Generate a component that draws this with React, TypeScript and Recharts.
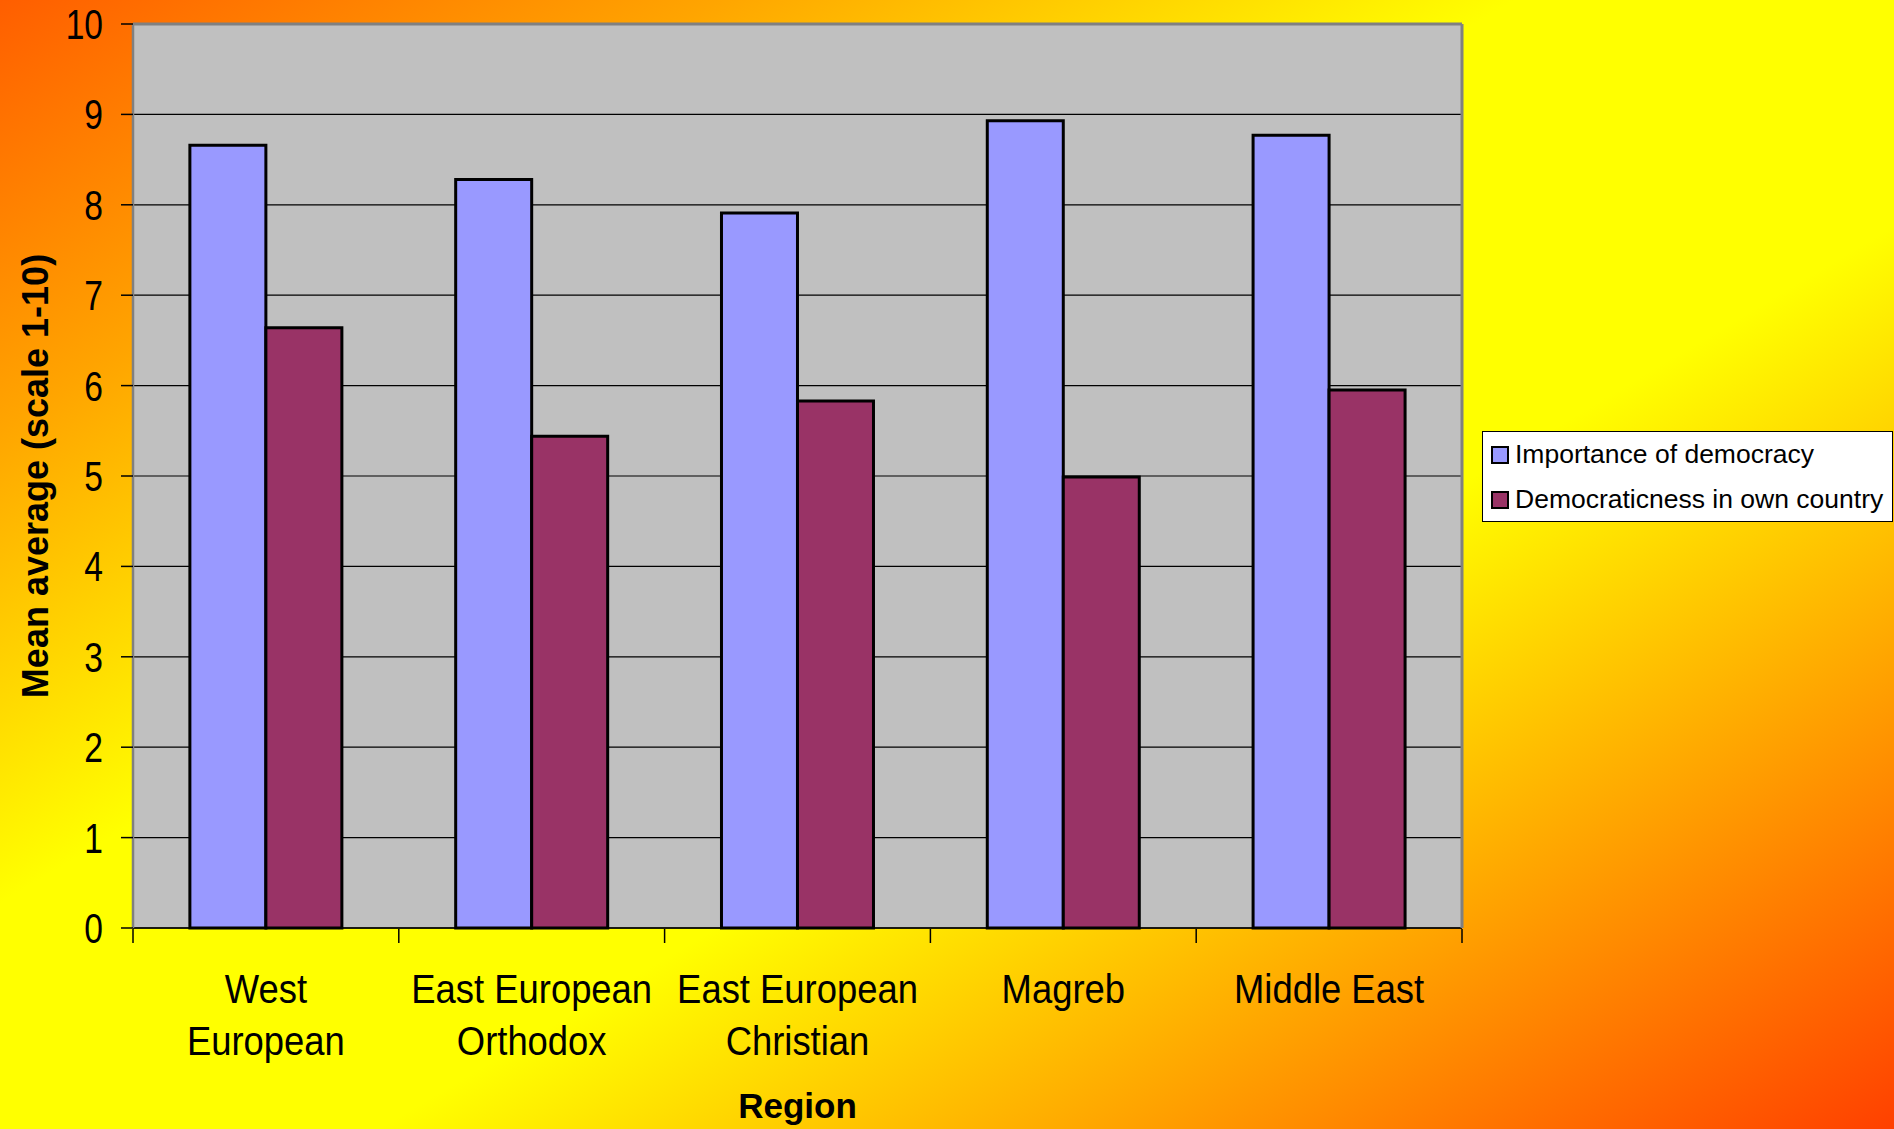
import React from 'react';
import { BarChart, Bar, XAxis, YAxis, CartesianGrid, Legend } from 'recharts';

const regions = ['West\nEuropean', 'East European\nOrthodox', 'East European\nChristian', 'Magreb', 'Middle East'];
const importance = [8.66, 8.28, 7.91, 8.93, 8.77];
const democraticness = [6.64, 5.44, 5.83, 4.99, 5.95];
const seriesNames = ['Importance of democracy', 'Democraticness in own country'];
const seriesColors = ['#9999FF', '#993366'];
const yTicks = [0, 1, 2, 3, 4, 5, 6, 7, 8, 9, 10];
const edgeTicks = [0, 1, 2, 3, 4, 5];

const data = regions.map((r, i) => ({ region: r, importance: importance[i], democraticness: democraticness[i] }));

const SANS = '"Liberation Sans", Arial, sans-serif';

const CategoryTick = (props: any) => {
  const { x, y, payload } = props;
  const lines = String(payload.value).split('\n');
  return (
    <g transform={`translate(${x},${y}) scale(0.91,1)`}>
      <text x={0} y={0} textAnchor="middle" fontFamily={SANS} fontSize={40} fill="#000">
        {lines.map((l, i) => (
          <tspan key={i} x={0} dy={i === 0 ? 75 : 52}>{l}</tspan>
        ))}
      </text>
    </g>
  );
};

const ValueTick = (props: any) => {
  const { x, y, payload } = props;
  return (
    <g transform={`translate(${x},${y}) scale(0.8,1)`}>
      <text x={0} y={0} dy="0.355em" textAnchor="end" fontFamily={SANS} fontSize={42} fill="#000">
        {payload.value}
      </text>
    </g>
  );
};

const EmptyTick = () => <g />;

const LegendBox = (props: any) => {
  const payload = [...(props.payload || [])].sort(
    (a: any, b: any) => seriesNames.indexOf(a.value) - seriesNames.indexOf(b.value)
  );
  return (
    <div
      style={{
        background: '#fff',
        border: '1px solid #000',
        width: 411,
        height: 91,
        boxSizing: 'border-box',
        fontFamily: SANS,
        fontSize: 26.5,
        color: '#000',
      }}
    >
      {payload.map((p: any, i: number) => (
        <div key={i} style={{ display: 'flex', alignItems: 'center', height: 45, lineHeight: '45px', paddingLeft: 8, whiteSpace: 'nowrap' }}>
          <span
            style={{
              display: 'inline-block',
              width: 18,
              height: 18,
              boxSizing: 'border-box',
              background: p.color,
              border: '2px solid #000',
              marginRight: 6,
            }}
          />
          <span>{p.value}</span>
        </div>
      ))}
    </div>
  );
};

export default function App() {
  return (
    <div
      style={{
        position: 'absolute',
        left: 0,
        top: 0,
        width: 1894,
        height: 1129,
        background:
          'linear-gradient(to bottom right, #FF5E00 0%, #FFA500 19%, #FFFF00 40%, #FFFF00 60%, #FFA000 80%, #FF4000 100%)',
      }}
    >
      <BarChart
        width={1894}
        height={1129}
        data={data}
        margin={{ top: 23, right: 20, bottom: 199, left: 0 }}
        barCategoryGap="21.4%"
        barGap={0}
      >
        <CartesianGrid vertical={false} stroke="#000" strokeWidth={1.2} fill="#C0C0C0" fillOpacity={1} />
        <XAxis
          dataKey="region"
          height={1}
          interval={0}
          tickLine={false}
          tickSize={0}
          tickMargin={0}
          tick={<CategoryTick />}
          axisLine={{ stroke: '#000', strokeWidth: 1.5 }}
          label={{
            value: 'Region',
            position: 'bottom',
            offset: 164,
            style: { fontFamily: SANS, fontWeight: 'bold', fontSize: 35, fill: '#000' },
          }}
        />
        <XAxis
          xAxisId="edges"
          type="number"
          dataKey="democraticness"
          domain={[0, regions.length]}
          ticks={edgeTicks}
          interval={0}
          height={1}
          tick={EmptyTick}
          tickSize={14}
          axisLine={false}
          tickLine={{ stroke: '#000', strokeWidth: 1.5 }}
          allowDataOverflow
        />
        <XAxis
          xAxisId="top"
          orientation="top"
          dataKey="region"
          height={1}
          tick={false}
          tickLine={false}
          axisLine={{ stroke: '#808080', strokeWidth: 3 }}
        />
        <YAxis
          type="number"
          domain={[0, 10]}
          ticks={yTicks}
          interval={0}
          width={133}
          tickSize={12}
          tickMargin={18}
          axisLine={{ stroke: '#808080', strokeWidth: 2.5 }}
          tickLine={{ stroke: '#000', strokeWidth: 1.5 }}
          tick={<ValueTick />}
          label={{
            value: 'Mean average (scale 1-10)',
            angle: -90,
            position: 'insideLeft',
            offset: 35,
            style: { textAnchor: 'middle', fontFamily: SANS, fontWeight: 'bold', fontSize: 36, fill: '#000' },
          }}
        />
        <YAxis
          yAxisId="right"
          orientation="right"
          domain={[0, 10]}
          width={1}
          tick={false}
          tickLine={false}
          axisLine={{ stroke: '#808080', strokeWidth: 3 }}
        />
        <Legend
          layout="vertical"
          align="right"
          verticalAlign="middle"
          content={<LegendBox />}
          wrapperStyle={{ top: 431, left: 1482, width: 411 }}
        />
        <Bar
          dataKey="importance"
          name={seriesNames[0]}
          fill={seriesColors[0]}
          stroke="#000"
          strokeWidth={3}
          isAnimationActive={false}
        />
        <Bar
          dataKey="democraticness"
          name={seriesNames[1]}
          fill={seriesColors[1]}
          stroke="#000"
          strokeWidth={3}
          isAnimationActive={false}
        />
      </BarChart>
    </div>
  );
}
